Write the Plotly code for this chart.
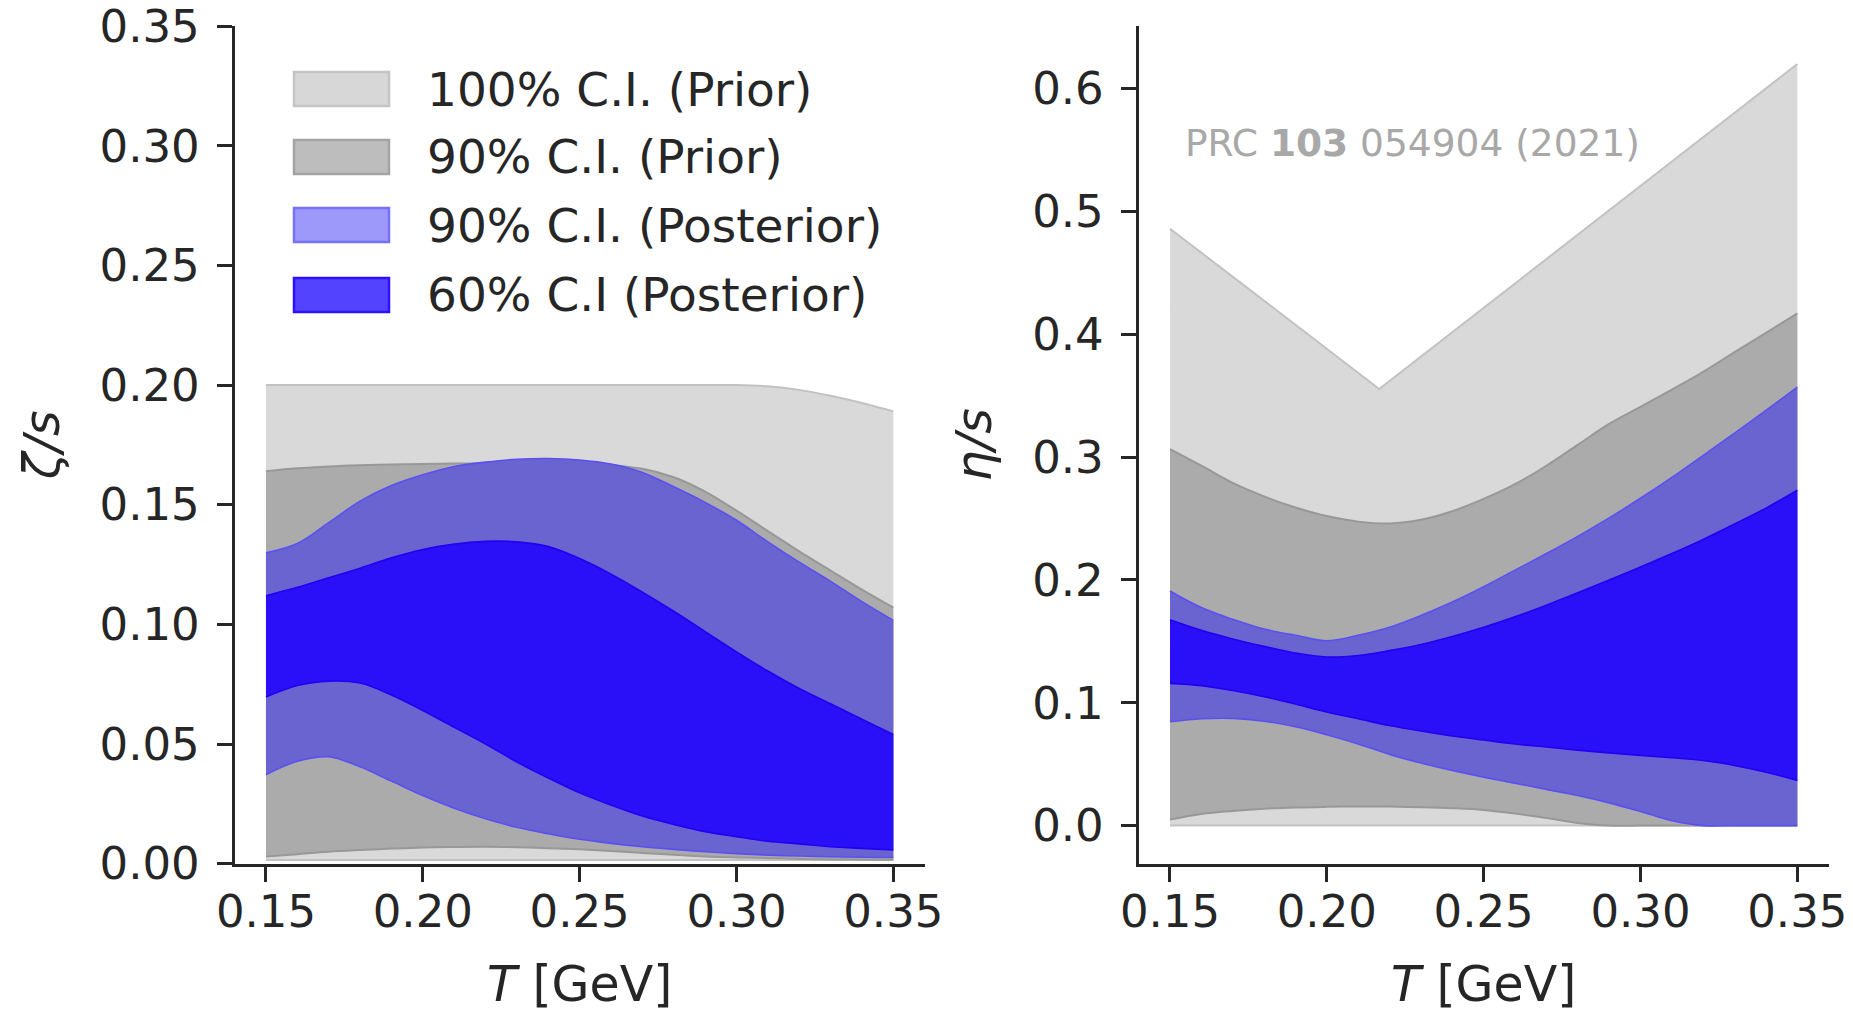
import plotly.graph_objects as go

W, H = 1853, 1013

# ---------------- data ----------------
T = [0.15, 0.16, 0.17, 0.18, 0.19, 0.20, 0.21, 0.22, 0.23, 0.24, 0.25,
     0.26, 0.27, 0.28, 0.29, 0.30, 0.31, 0.32, 0.33, 0.34, 0.35]

# bulk viscosity  zeta/s
zeta_p100_hi = [0.200, 0.200, 0.200, 0.200, 0.200, 0.200, 0.200, 0.200, 0.200, 0.200, 0.200,
                0.200, 0.200, 0.200, 0.200, 0.200, 0.1995, 0.198, 0.1955, 0.1925, 0.189]
zeta_p100_lo = [0.0015, 0.0015, 0.0015, 0.0015, 0.0015, 0.0015, 0.0015, 0.0015, 0.0015, 0.0015, 0.0015,
                0.0015, 0.0015, 0.0015, 0.0015, 0.0015, 0.0015, 0.0015, 0.0015, 0.0015, 0.0015]
zeta_p90_hi = [0.1640, 0.1652, 0.1660, 0.1665, 0.1668, 0.1670, 0.1672, 0.1673, 0.1673, 0.1672, 0.1670,
               0.1665, 0.1650, 0.1615, 0.1555, 0.1475, 0.1390, 0.1305, 0.1225, 0.1145, 0.1070]
zeta_p90_lo = [0.0030, 0.0040, 0.0050, 0.0057, 0.0063, 0.0068, 0.0070, 0.0071, 0.0069, 0.0065, 0.0060,
               0.0053, 0.0045, 0.0037, 0.0030, 0.0026, 0.0023, 0.0020, 0.0018, 0.0017, 0.0016]
zeta_q90_hi = [0.1299, 0.1338, 0.1425, 0.1515, 0.1580, 0.1625, 0.1660, 0.1678, 0.1690, 0.1693, 0.1687,
               0.1670, 0.1635, 0.1575, 0.1510, 0.1435, 0.1345, 0.1260, 0.1180, 0.1095, 0.1017]
zeta_q90_lo = [0.0372, 0.0428, 0.0447, 0.0405, 0.0345, 0.0285, 0.0232, 0.0188, 0.0152, 0.0125, 0.0102,
               0.0085, 0.0071, 0.0060, 0.0050, 0.0042, 0.0036, 0.0032, 0.0029, 0.0027, 0.0026]
zeta_q60_hi = [0.1120, 0.1155, 0.1195, 0.1235, 0.1278, 0.1313, 0.1336, 0.1347, 0.1345, 0.1325, 0.1275,
               0.1210, 0.1135, 0.1055, 0.0970, 0.0885, 0.0805, 0.0732, 0.0668, 0.0604, 0.0540]
zeta_q60_lo = [0.0697, 0.0745, 0.0763, 0.0755, 0.0705, 0.0640, 0.0570, 0.0500, 0.0425, 0.0358, 0.0296,
               0.0245, 0.0199, 0.0164, 0.0134, 0.0113, 0.0094, 0.0083, 0.0071, 0.0064, 0.0057]

# shear viscosity  eta/s
T_eta_prior100 = [0.15, 0.2167, 0.35]
eta_p100_hi = [0.486, 0.3555, 0.620]
eta_p100_lo = [0.000, 0.000, 0.000]
eta_p90_hi = [0.3065, 0.2930, 0.2790, 0.2680, 0.2590, 0.2520, 0.2475, 0.2460, 0.2490, 0.2560, 0.2660,
              0.2780, 0.2930, 0.3100, 0.3270, 0.3410, 0.3550, 0.3695, 0.3855, 0.4012, 0.4170]
eta_p90_lo = [0.0050, 0.0095, 0.0120, 0.0138, 0.0148, 0.0153, 0.0156, 0.0155, 0.0150, 0.0142, 0.0128,
              0.0098, 0.0062, 0.0022, 0.0000, 0.0000, 0.0000, 0.0000, 0.0000, 0.0000, 0.0000]
eta_q90_hi = [0.1910, 0.1775, 0.1680, 0.1600, 0.1550, 0.1505, 0.1550, 0.1615, 0.1710, 0.1820, 0.1945,
              0.2080, 0.2215, 0.2355, 0.2505, 0.2665, 0.2835, 0.3015, 0.3195, 0.3380, 0.3570]
eta_q90_lo = [0.0845, 0.0870, 0.0873, 0.0850, 0.0805, 0.0740, 0.0665, 0.0580, 0.0510, 0.0450, 0.0395,
              0.0345, 0.0295, 0.0245, 0.0185, 0.0115, 0.0040, 0.0000, 0.0000, 0.0000, 0.0000]
eta_q60_hi = [0.1676, 0.1590, 0.1520, 0.1460, 0.1405, 0.1373, 0.1385, 0.1425, 0.1475, 0.1540, 0.1615,
              0.1700, 0.1795, 0.1895, 0.2000, 0.2105, 0.2215, 0.2330, 0.2455, 0.2585, 0.2730]
eta_q60_lo = [0.1158, 0.1140, 0.1100, 0.1050, 0.0990, 0.0925, 0.0870, 0.0815, 0.0770, 0.0730, 0.0697,
              0.0665, 0.0640, 0.0615, 0.0592, 0.0572, 0.0552, 0.0530, 0.0490, 0.0435, 0.0368]

x_ticks = [0.15, 0.20, 0.25, 0.30, 0.35]
x_ticklabels = ["0.15", "0.20", "0.25", "0.30", "0.35"]
zeta_ticks = [0.00, 0.05, 0.10, 0.15, 0.20, 0.25, 0.30, 0.35]
zeta_ticklabels = ["0.00", "0.05", "0.10", "0.15", "0.20", "0.25", "0.30", "0.35"]
eta_ticks = [0.0, 0.1, 0.2, 0.3, 0.4, 0.5, 0.6]
eta_ticklabels = ["0.0", "0.1", "0.2", "0.3", "0.4", "0.5", "0.6"]

legend_labels = ["100% C.I. (Prior)", "90% C.I. (Prior)", "90% C.I. (Posterior)", "60% C.I (Posterior)"]

# ---------------- styles ----------------
FONT = "DejaVu Sans"
INK = "#262626"
C_P100 = "#d9d9d9"; E_P100 = "#c2c2c2"
C_P90 = "#ababab";  E_P90 = "#989898"
C_Q90 = "#6a64d0";  E_Q90 = "#5a50f2"
C_Q60 = "#2a10f8";  E_Q60 = "#2200f0"
LEG_FILL = ["#d7d7d7", "#bdbdbd", "#9d99fb", "#5343ff"]
LEG_EDGE = ["#c4c4c4", "#a4a4a4", "#7670ff", "#2c10ff"]

fig = go.Figure()


def band(x, lo, hi, fill, edge, ew, xa, ya, shape="spline"):
    fig.add_trace(go.Scatter(x=x, y=lo, mode="lines", xaxis=xa, yaxis=ya,
                             line=dict(color=edge, width=ew, shape=shape),
                             showlegend=False, hoverinfo="skip"))
    fig.add_trace(go.Scatter(x=x, y=hi, mode="lines", xaxis=xa, yaxis=ya,
                             line=dict(color=edge, width=ew, shape=shape),
                             fill="tonexty", fillcolor=fill,
                             showlegend=False, hoverinfo="skip"))


# left panel
band(T, zeta_p100_lo, zeta_p100_hi, C_P100, E_P100, 2, "x", "y")
band(T, zeta_p90_lo, zeta_p90_hi, C_P90, E_P90, 2, "x", "y")
band(T, zeta_q90_lo, zeta_q90_hi, C_Q90, E_Q90, 1.6, "x", "y")
band(T, zeta_q60_lo, zeta_q60_hi, C_Q60, E_Q60, 1.6, "x", "y")

# right panel
band(T_eta_prior100, eta_p100_lo, eta_p100_hi, C_P100, E_P100, 2, "x2", "y2", shape="linear")
band(T, eta_p90_lo, eta_p90_hi, C_P90, E_P90, 2, "x2", "y2")
band(T, eta_q90_lo, eta_q90_hi, C_Q90, E_Q90, 1.6, "x2", "y2")
band(T, eta_q60_lo, eta_q60_hi, C_Q60, E_Q60, 1.6, "x2", "y2")


def px(v):
    return v / W


def py(v):
    return 1 - v / H


axis_common = dict(showline=True, linecolor=INK, linewidth=2.7, ticks="outside",
                   ticklen=15, tickwidth=2.7, tickcolor=INK, showgrid=False,
                   zeroline=False, mirror=False, automargin=False,
                   ticklabeloverflow="allow",
                   tickfont=dict(family=FONT, size=45, color=INK))

y_dom = [py(863.7), py(26)]
TITLE_FONT = dict(family=FONT, size=49, color=INK)

fig.update_layout(
    template="none",
    width=W, height=H,
    margin=dict(l=0, r=0, t=0, b=0, autoexpand=False),
    paper_bgcolor="white", plot_bgcolor="white",
    font=dict(family=FONT, color=INK),
    showlegend=False,
    xaxis=dict(axis_common, domain=[px(234.6), px(924.7)], range=[0.14, 0.36],
               tickvals=x_ticks, ticktext=x_ticklabels, anchor="y", ticklabelstandoff=-9,
               title=dict(text="<i>T</i> [GeV]", font=TITLE_FONT, standoff=32)),
    yaxis=dict(axis_common, domain=y_dom, range=[0, 0.35005],
               tickvals=zeta_ticks, ticktext=zeta_ticklabels, anchor="x", ticklabelstandoff=8,
               title=dict(text="<i>ζ/s</i>", font=TITLE_FONT, standoff=25)),
    xaxis2=dict(axis_common, domain=[px(1138.6), px(1828.7)], range=[0.14, 0.36],
                tickvals=x_ticks, ticktext=x_ticklabels, anchor="y2", ticklabelstandoff=-9,
                title=dict(text="<i>T</i> [GeV]", font=TITLE_FONT, standoff=32)),
    yaxis2=dict(axis_common, domain=y_dom, range=[-0.031, 0.651],
                tickvals=eta_ticks, ticktext=eta_ticklabels, anchor="x2", ticklabelstandoff=8,
                title=dict(text="<i>η/s</i>", font=TITLE_FONT, standoff=26)),
)

# custom legend (large swatches like the original)
row_tops = [72, 140, 208, 278]
shapes = []
annotations = []
for i, lab in enumerate(legend_labels):
    top = row_tops[i]
    shapes.append(dict(type="rect", xref="paper", yref="paper",
                       x0=px(294), x1=px(389), y0=py(top + 34), y1=py(top),
                       fillcolor=LEG_FILL[i], line=dict(color=LEG_EDGE[i], width=2.5)))
    annotations.append(dict(xref="paper", yref="paper", x=px(425), y=py(top + 17),
                            xanchor="left", yanchor="middle", showarrow=False,
                            text=lab, font=dict(family=FONT, size=47, color=INK)))

annotations.append(dict(xref="paper", yref="paper", x=px(1183), y=py(143),
                        xanchor="left", yanchor="middle", showarrow=False,
                        text="PRC <b>103</b> 054904 (2021)",
                        font=dict(family=FONT, size=37.5, color="#a8a8a8")))

fig.update_layout(shapes=shapes, annotations=annotations)

fig.write_html("out.html",
               config={"displayModeBar": False},
               post_script="document.body.style.margin='0';document.body.style.overflow='hidden';")
